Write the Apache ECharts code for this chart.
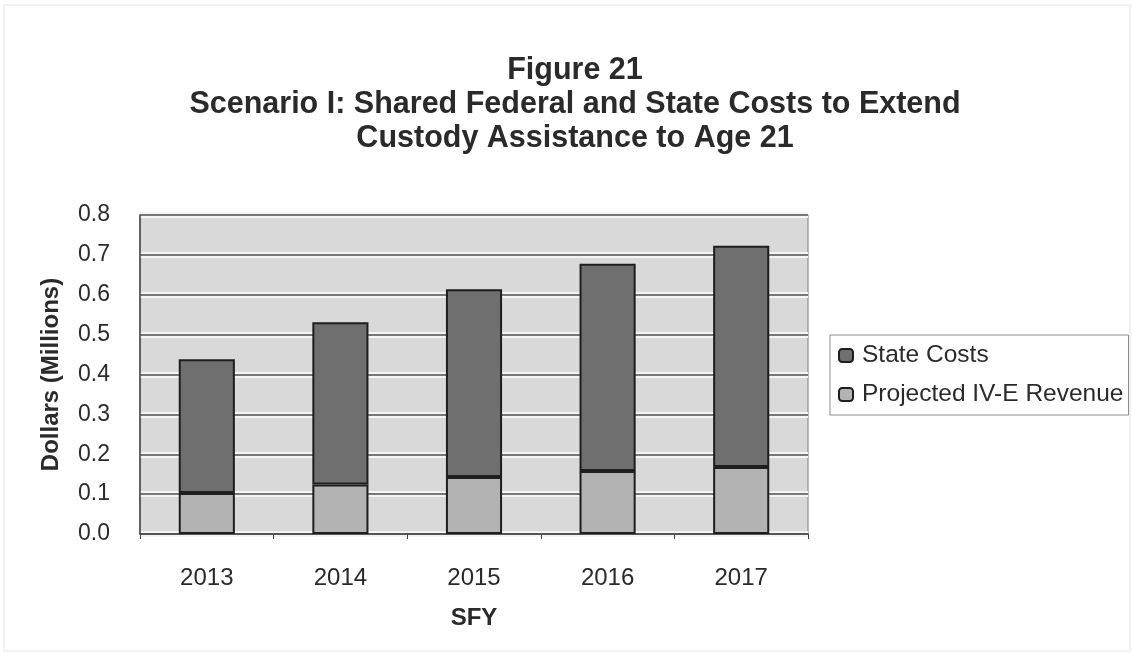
<!DOCTYPE html>
<html>
<head>
<meta charset="utf-8">
<script src="https://cdn.jsdelivr.net/npm/echarts@6/dist/echarts.min.js"></script>
<style>
  html, body { margin: 0; padding: 0; background: #ffffff; }
  #chart { width: 1132px; height: 653px; }
</style>
</head>
<body>
<div id="chart"></div>
<script>
// Fiscal years on the category axis
const years = ['2013', '2014', '2015', '2016', '2017'];
// Projected IV-E revenue (millions of dollars), bottom of each stack
const ivERevenue = [0.103, 0.124, 0.143, 0.158, 0.168];
// State costs (millions of dollars), stacked on top of IV-E revenue
const stateCosts = [0.335, 0.407, 0.471, 0.520, 0.555];
// Value-axis ticks
const yTicks = [0.0, 0.1, 0.2, 0.3, 0.4, 0.5, 0.6, 0.7, 0.8];

const FONT = '"Liberation Sans", Arial, sans-serif';
const TEXT = '#2a2a2a';

const chart = echarts.init(document.getElementById('chart'));

chart.setOption({
  backgroundColor: '#ffffff',
  animation: false,
  graphic: [
    {
      // faint page frame
      type: 'rect',
      shape: { x: 4, y: 5, width: 1126, height: 646 },
      style: { fill: 'none', stroke: '#e4e4e4', lineWidth: 1 },
      silent: true
    }
  ],
  title: {
    text: 'Figure 21\nScenario I: Shared Federal and State Costs to Extend\nCustody Assistance to Age 21',
    left: 570,
    textAlign: 'center',
    top: 49,
    textStyle: {
      fontFamily: FONT,
      fontSize: 30.5,
      fontWeight: 'bold',
      color: TEXT,
      lineHeight: 34
    }
  },
  legend: {
    orient: 'vertical',
    left: 830,
    top: 335,
    itemWidth: 14,
    itemHeight: 13,
    itemGap: 14,
    padding: [8, 5, 8, 8],
    borderColor: '#8a8a8a',
    borderWidth: 1,
    data: ['State Costs', 'Projected IV-E Revenue'],
    textStyle: { fontFamily: FONT, fontSize: 24.5, color: TEXT, padding: [0, 0, 0, 4] }
  },
  grid: {
    left: 140,
    right: 1132 - 808,
    top: 215,
    bottom: 653 - 534,
    show: true,
    backgroundColor: '#d9d9d9',
    borderColor: '#7a7a7a',
    borderWidth: 1
  },
  xAxis: {
    type: 'category',
    data: years,
    name: 'SFY',
    nameLocation: 'middle',
    nameGap: 72,
    nameTextStyle: { fontFamily: FONT, fontSize: 24, fontWeight: 'bold', color: TEXT },
    axisLine: { lineStyle: { color: '#444', width: 1.5 } },
    axisTick: { show: true, length: 5, lineStyle: { color: '#444' } },
    axisLabel: { fontFamily: FONT, fontSize: 24, color: TEXT, margin: 32 }
  },
  yAxis: [
    {
      type: 'value',
      min: yTicks[0],
      max: yTicks[yTicks.length - 1],
      interval: 0.1,
      name: 'Dollars (Millions)',
      nameLocation: 'middle',
      nameGap: 77,
      nameTextStyle: { fontFamily: FONT, fontSize: 24, fontWeight: 'bold', color: TEXT },
      axisLine: { show: true, lineStyle: { color: '#444', width: 1.5 } },
      axisTick: { show: false },
      axisLabel: {
        fontFamily: FONT, fontSize: 23, color: TEXT, margin: 30,
        formatter: v => v.toFixed(1)
      },
      splitLine: { show: true, lineStyle: { color: '#f4f4f4', width: 6 } },
      z: 0
    },
    {
      type: 'value',
      min: yTicks[0],
      max: yTicks[yTicks.length - 1],
      interval: 0.1,
      position: 'left',
      axisLine: { show: false },
      axisTick: { show: false },
      axisLabel: { show: false },
      splitLine: { show: true, lineStyle: { color: '#4e4e4e', width: 1.5 } },
      z: 1
    }
  ],
  series: [
    {
      name: 'Projected IV-E Revenue',
      type: 'bar',
      stack: 'cost',
      data: ivERevenue,
      barWidth: '42%',
      itemStyle: { color: '#b3b3b3', borderColor: '#1e1e1e', borderWidth: 2 },
      z: 3
    },
    {
      name: 'State Costs',
      type: 'bar',
      stack: 'cost',
      data: stateCosts,
      barWidth: '42%',
      itemStyle: { color: '#6f6f6f', borderColor: '#1e1e1e', borderWidth: 2 },
      z: 3
    }
  ]
});
</script>
</body>
</html>
